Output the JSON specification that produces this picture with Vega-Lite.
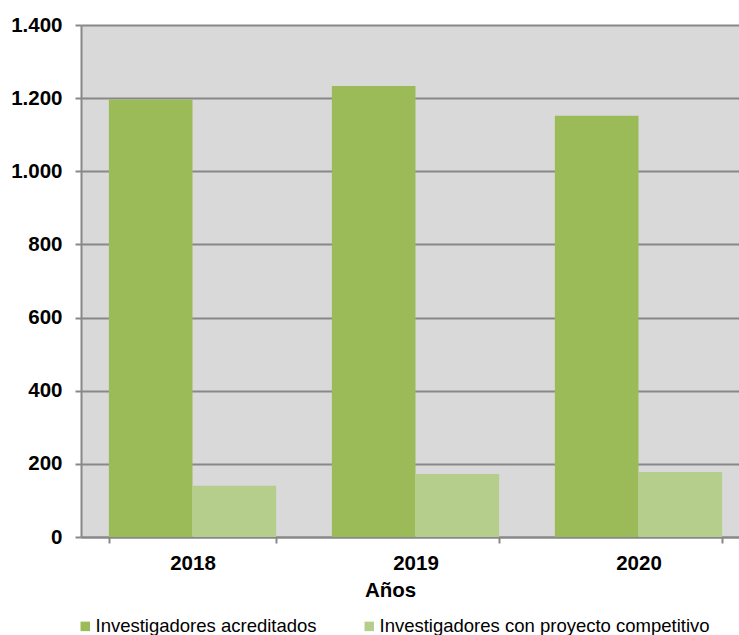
{
  "$schema": "https://vega.github.io/schema/vega-lite/v6.json",
  "width": 658,
  "height": 512,
  "autosize": {"type": "none"},
  "padding": {"left": 81, "top": 25, "right": 0, "bottom": 98},
  "background": "white",
  "config": {
    "locale": {"number": {"decimal": ",", "thousands": ".", "grouping": [3], "currency": ["", " €"]}},
    "view": {"fill": "#d9d9d9", "stroke": null},
    "font": "Liberation Sans"
  },
  "data": {
    "values": [
      {"year": "2018", "serie": "Investigadores acreditados", "value": 1196},
      {"year": "2018", "serie": "Investigadores con proyecto competitivo", "value": 140},
      {"year": "2019", "serie": "Investigadores acreditados", "value": 1233},
      {"year": "2019", "serie": "Investigadores con proyecto competitivo", "value": 172},
      {"year": "2020", "serie": "Investigadores acreditados", "value": 1152},
      {"year": "2020", "serie": "Investigadores con proyecto competitivo", "value": 178}
    ]
  },
  "mark": {"type": "bar"},
  "encoding": {
    "x": {
      "field": "year", "type": "nominal",
      "scale": {"range": [0, 669], "paddingInner": 0.25, "paddingOuter": 0.125},
      "axis": {
        "title": "Años", "labelAngle": 0, "labelFontSize": 20.5, "labelFontWeight": "bold", "labelColor": "black",
        "labelPadding": 10, "tickBand": "extent", "tickSize": 6, "tickColor": "#888888", "tickWidth": 2,
        "domainColor": "#888888", "domainWidth": 2,
        "titleFontSize": 20.5, "titleFontWeight": "bold", "titleColor": "black",
        "titleX": 309, "titleY": 53, "titleBaseline": "middle", "titleAnchor": null
      }
    },
    "y": {
      "field": "value", "type": "quantitative",
      "scale": {"domain": [0, 1400]},
      "axis": {
        "title": null, "values": [0, 200, 400, 600, 800, 1000, 1200, 1400], "format": ",d",
        "labelFontSize": 20.5, "labelFontWeight": "bold", "labelColor": "black", "labelPadding": 13,
        "tickSize": 6, "tickColor": "#888888", "tickWidth": 2,
        "domainColor": "#888888", "domainWidth": 2,
        "grid": true, "gridColor": "#888888", "gridWidth": 2
      }
    },
    "xOffset": {"field": "serie", "type": "nominal", "scale": {"paddingInner": 0, "paddingOuter": 0}},
    "color": {
      "field": "serie", "type": "nominal",
      "scale": {"range": ["#9bbb59", "#b6ce8b"]},
      "legend": {
        "title": null, "orient": "none", "direction": "horizontal", "legendX": -5, "legendY": 592,
        "symbolType": "square", "symbolSize": 90, "symbolStrokeWidth": 0, "labelFontSize": 18.5,
        "labelColor": "black", "labelOffset": 1, "columnPadding": 43, "labelLimit": 500
      }
    }
  }
}
